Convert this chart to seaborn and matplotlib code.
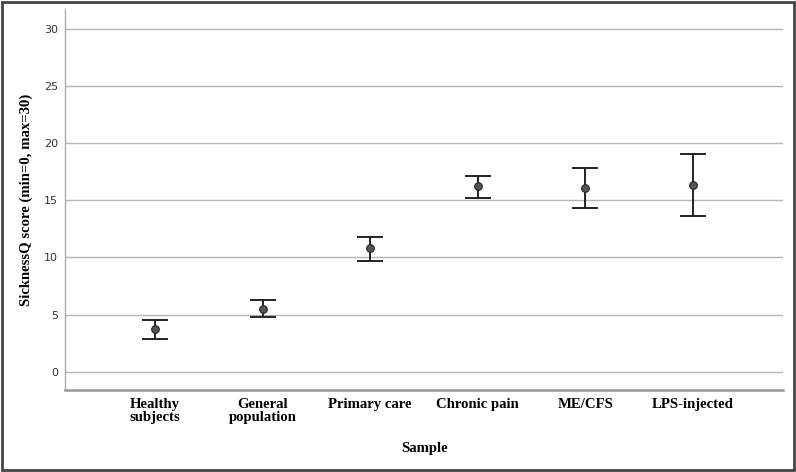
import numpy as np
import pandas as pd
import matplotlib
matplotlib.use('Agg')
import matplotlib.pyplot as plt
import seaborn as sns
from matplotlib.patches import Rectangle

# Örnek grupları ve SicknessQ ortalama / güven aralıkları
samples = ['Healthy\nsubjects', 'General\npopulation', 'Primary care', 'Chronic pain', 'ME/CFS', 'LPS-injected']
means = [3.7, 5.5, 10.8, 16.2, 16.1, 16.3]
ci_low = [2.9, 4.75, 9.7, 15.2, 14.3, 13.6]
ci_high = [4.5, 6.3, 11.8, 17.1, 17.85, 19.0]
yticks = [0, 5, 10, 15, 20, 25, 30]

df = pd.DataFrame({'sample': samples, 'mean': means, 'low': ci_low, 'high': ci_high})

sns.set_style('white')
serif = ['Liberation Serif', 'DejaVu Serif']

fig = plt.figure(figsize=(7.96, 4.72), dpi=100)
ax = fig.add_axes([0.0817, 0.1737, 0.902, 0.807])

# Hata çubukları
yerr = np.array([df['mean'] - df['low'], df['high'] - df['mean']])
ax.errorbar(np.arange(len(df)), df['mean'], yerr=yerr, fmt='none', ecolor='#222222',
            elinewidth=1.4, capsize=9.7, capthick=1.4, zorder=3)

# Ortalama noktaları
sns.pointplot(data=df, x='sample', y='mean', linestyle='none', errorbar=None,
              marker='o', markersize=5.5, color='#555555', markeredgecolor='#222222',
              markeredgewidth=0.8, ax=ax, zorder=4)

ax.set_ylim(-1.6, 31.7)
ax.set_xlim(-0.836, 5.836)
ax.set_yticks(yticks)
ax.yaxis.grid(True, color='#b5b5b5', linewidth=1)
ax.set_axisbelow(True)

for s in ['top', 'right']:
    ax.spines[s].set_visible(False)
ax.spines['left'].set_color('#aaaaaa')
ax.spines['left'].set_linewidth(1)
ax.spines['bottom'].set_color('#999999')
ax.spines['bottom'].set_linewidth(1.8)

ax.tick_params(axis='y', length=0, pad=5, labelsize=8, labelcolor='#333333')
ax.tick_params(axis='x', length=0, pad=6)
for lab in ax.get_xticklabels():
    lab.set_family(serif)
    lab.set_fontweight('bold')
    lab.set_fontsize(10.6)
    lab.set_linespacing(0.95)
    lab.set_verticalalignment('top')
    lab.set_color('black')

ax.set_xlabel('Sample', family=serif, fontweight='bold', fontsize=10.6, labelpad=13, color='black')
ax.set_ylabel('SicknessQ score (min=0, max=30)', family=serif, fontweight='bold', fontsize=10.6,
              labelpad=8, color='black')

# Çerçeve
fig.patches.append(Rectangle((0.003, 0.004), 0.994, 0.992, transform=fig.transFigure,
                             fill=False, edgecolor='#444444', linewidth=2))

fig.savefig('out.png', dpi=100)
